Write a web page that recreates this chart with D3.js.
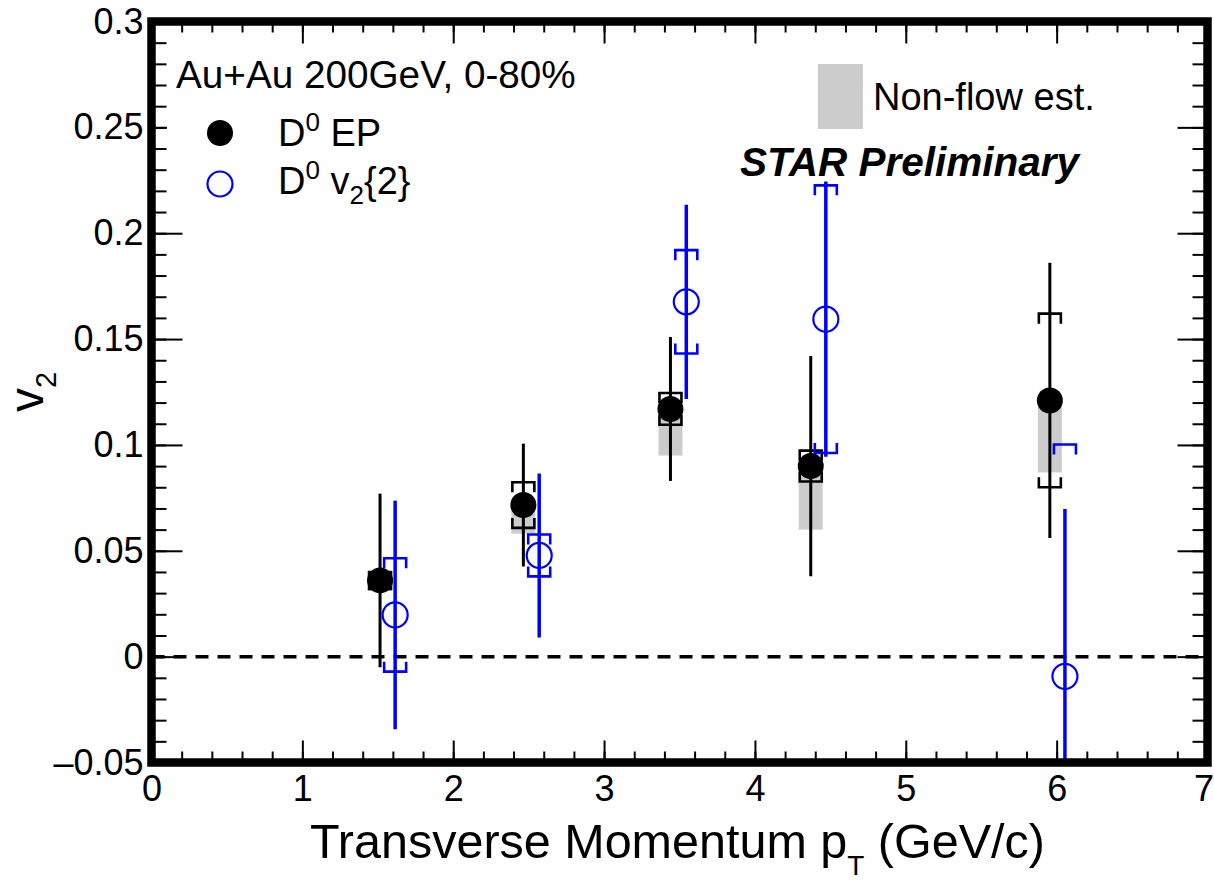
<!DOCTYPE html>
<html>
<head>
<meta charset="utf-8">
<script src="https://cdn.jsdelivr.net/npm/d3@7"></script>
<style>
  body { margin: 0; background: #fff; }
  text { font-family: "Liberation Sans", Arial, Helvetica, sans-serif; fill: #000; }
</style>
</head>
<body>
<svg width="1214" height="882"></svg>
<script>
// D0 v2 vs pT -- event plane points
var epPt = [1.515, 2.465, 3.44, 4.37, 5.955];
var epV2 = [0.036, 0.0716, 0.117, 0.090, 0.121];
var epStat = [0.041, 0.029, 0.034, 0.052, 0.065];
var epSys = [0.004, 0.0108, 0.0075, 0.0073, 0.041];
var epNonflow = [0.005, 0.0135, 0.022, 0.030, 0.034];

// D0 v2{2} points
var twoPt = [1.615, 2.57, 3.545, 4.47, 6.055];
var twoV2 = [0.0197, 0.0478, 0.1676, 0.1594, -0.0093];
var twoStat = [0.054, 0.0387, 0.0459, 0.065, 0.079];
var twoSys = [0.0268, 0.0099, 0.0244, 0.0632, 0.1095];

var xTicks = [0, 1, 2, 3, 4, 5, 6, 7];
var xTickLabels = ["0", "1", "2", "3", "4", "5", "6", "7"];
var yTicks = [-0.05, 0, 0.05, 0.1, 0.15, 0.2, 0.25, 0.3];
var yTickLabels = ["\u20130.05", "0", "0.05", "0.1", "0.15", "0.2", "0.25", "0.3"];

var svg = d3.select("svg");

var x = d3.scaleLinear().domain([0, 7]).range([151.5, 1207.5]);
var y = d3.scaleLinear().domain([-0.05, 0.3]).range([762.5, 21.5]);

function rows(pt, v, stat, sys, nf) {
  return pt.map(function(p, i) {
    return { pt: p, v: v[i], stat: stat[i], sys: sys[i], nf: nf ? nf[i] : 0 };
  });
}
var ep = rows(epPt, epV2, epStat, epSys, epNonflow);
var two = rows(twoPt, twoV2, twoStat, twoSys);

// ---- ticks (all four sides, pointing inwards)
function styleAxis(g) {
  g.select(".domain").remove();
  g.selectAll("line").attr("stroke", "#000").attr("stroke-width", 2);
}
var xMinor = d3.range(0, 7.001, 0.2);
var yMinor = d3.range(-0.05, 0.3001, 0.01);

svg.append("g").attr("transform", "translate(0," + y(-0.05) + ")")
  .call(d3.axisBottom(x).tickValues(xMinor).tickSize(-11).tickFormat(""))
  .call(styleAxis);
var xLab = svg.append("g").attr("transform", "translate(0," + y(-0.05) + ")")
  .call(d3.axisBottom(x).tickValues(xTicks).tickSize(-22).tickPadding(13)
    .tickFormat(function(d, i) { return xTickLabels[i]; }))
  .call(styleAxis)
  .attr("font-size", 36).attr("font-family", null);
// last label sits on the page edge, pull it in a little
xLab.selectAll("text").filter(function(d) { return d === 7; }).attr("dx", -4);

svg.append("g").attr("transform", "translate(0," + y(0.3) + ")")
  .call(d3.axisTop(x).tickValues(xMinor).tickSize(-11).tickFormat(""))
  .call(styleAxis);
svg.append("g").attr("transform", "translate(0," + y(0.3) + ")")
  .call(d3.axisTop(x).tickValues(xTicks).tickSize(-22).tickFormat(""))
  .call(styleAxis);

svg.append("g").attr("transform", "translate(" + x(0) + ",0)")
  .call(d3.axisLeft(y).tickValues(yMinor).tickSize(-15).tickFormat(""))
  .call(styleAxis);
svg.append("g").attr("transform", "translate(" + x(0) + ",0)")
  .call(d3.axisLeft(y).tickValues(yTicks).tickSize(-31).tickPadding(8)
    .tickFormat(function(d, i) { return yTickLabels[i]; }))
  .call(styleAxis)
  .attr("font-size", 36).attr("font-family", null);
svg.append("g").attr("transform", "translate(" + x(7) + ",0)")
  .call(d3.axisRight(y).tickValues(yMinor).tickSize(-15).tickFormat(""))
  .call(styleAxis);
svg.append("g").attr("transform", "translate(" + x(7) + ",0)")
  .call(d3.axisRight(y).tickValues(yTicks).tickSize(-30).tickFormat(""))
  .call(styleAxis);

// legend box (white fill hides part of the 0.25 tick like in ROOT)
svg.append("rect").attr("x", 167).attr("y", 46).attr("width", 430).attr("height", 170).attr("fill", "#fff");

// zero line
svg.append("line")
  .attr("x1", x(0)).attr("x2", x(7)).attr("y1", y(0)).attr("y2", y(0))
  .attr("stroke", "#000").attr("stroke-width", 3.5).attr("stroke-dasharray", "13,9");

// ---- data, clipped to the frame
svg.append("clipPath").attr("id", "plot")
  .append("rect").attr("x", x(0)).attr("y", y(0.3))
  .attr("width", x(7) - x(0)).attr("height", y(-0.05) - y(0.3));
var plot = svg.append("g").attr("clip-path", "url(#plot)");

// non-flow estimate
plot.selectAll(".nf").data(ep).enter().append("rect")
  .attr("x", function(d) { return x(d.pt) - 12; })
  .attr("y", function(d) { return y(d.v); })
  .attr("width", 24)
  .attr("height", function(d) { return y(d.v - d.nf) - y(d.v); })
  .attr("fill", "#cccccc");

function bracket(d, side) {
  var cx = x(d.pt), w = 11, t = 10;
  if (side > 0) {
    var yt = y(d.v + d.sys);
    return "M" + (cx - w) + "," + (yt + t) + "V" + yt + "H" + (cx + w) + "V" + (yt + t);
  }
  var yb = y(d.v - d.sys);
  return "M" + (cx - w) + "," + (yb - t) + "V" + yb + "H" + (cx + w) + "V" + (yb - t);
}

function drawSeries(data, color, barWidth, filled) {
  var g = plot.append("g");
  [1, -1].forEach(function(side) {
    g.selectAll(".b" + side).data(data).enter().append("path")
      .attr("d", function(d) { return bracket(d, side); })
      .attr("fill", "none").attr("stroke", color).attr("stroke-width", 2.6);
  });
  g.selectAll(".err").data(data).enter().append("line")
    .attr("x1", function(d) { return x(d.pt); })
    .attr("x2", function(d) { return x(d.pt); })
    .attr("y1", function(d) { return y(d.v + d.stat); })
    .attr("y2", function(d) { return y(d.v - d.stat); })
    .attr("stroke", color).attr("stroke-width", barWidth);
  g.selectAll(".mk").data(data).enter().append("circle")
    .attr("cx", function(d) { return x(d.pt); })
    .attr("cy", function(d) { return y(d.v); })
    .attr("r", filled ? 13 : 12.5)
    .attr("fill", filled ? color : "none")
    .attr("stroke", color).attr("stroke-width", filled ? 0 : 2.2);
}
drawSeries(ep, "#000", 3, true);
drawSeries(two, "#0000ff", 3.5, false);

// frame
svg.append("rect")
  .attr("x", x(0)).attr("y", y(0.3))
  .attr("width", x(7) - x(0)).attr("height", y(-0.05) - y(0.3))
  .attr("fill", "none").attr("stroke", "#000").attr("stroke-width", 8.5);

// ---- legends and labels
svg.append("text").attr("x", 176).attr("y", 88).attr("font-size", 38.7)
  .text("Au+Au 200GeV, 0-80%");

svg.append("circle").attr("cx", 220).attr("cy", 133).attr("r", 13).attr("fill", "#000");
var t1 = svg.append("text").attr("x", 278).attr("y", 146).attr("font-size", 38);
t1.append("tspan").text("D");
t1.append("tspan").attr("font-size", 26).attr("dy", -15).text("0");
t1.append("tspan").attr("dy", 15).text(" EP");

svg.append("circle").attr("cx", 220).attr("cy", 184).attr("r", 12.5)
  .attr("fill", "none").attr("stroke", "#0000ff").attr("stroke-width", 2.2);
var t2 = svg.append("text").attr("x", 278).attr("y", 194).attr("font-size", 38);
t2.append("tspan").text("D");
t2.append("tspan").attr("font-size", 26).attr("dy", -15).text("0");
t2.append("tspan").attr("dy", 15).text(" v");
t2.append("tspan").attr("font-size", 26).attr("dy", 10).text("2");
t2.append("tspan").attr("dy", -10).text("{2}");

svg.append("rect").attr("x", 818).attr("y", 64).attr("width", 45).attr("height", 65).attr("fill", "#cccccc");
svg.append("text").attr("x", 873).attr("y", 110).attr("font-size", 38).text("Non-flow est.");

svg.append("text").attr("x", 740).attr("y", 176).attr("font-size", 40.5)
  .attr("font-weight", "bold").attr("font-style", "italic").text("STAR Preliminary");

var xt = svg.append("text").attr("x", 310).attr("y", 858).attr("font-size", 48.5);
xt.append("tspan").text("Transverse Momentum p");
xt.append("tspan").attr("font-size", 28).attr("dy", 17).text("T");
xt.append("tspan").attr("dy", -17).text(" (GeV/c)");

var yt = svg.append("text").attr("transform", "translate(43,412) rotate(-90)").attr("font-size", 48);
yt.append("tspan").text("v");
yt.append("tspan").attr("font-size", 29).attr("dy", 13).text("2");
</script>
</body>
</html>
